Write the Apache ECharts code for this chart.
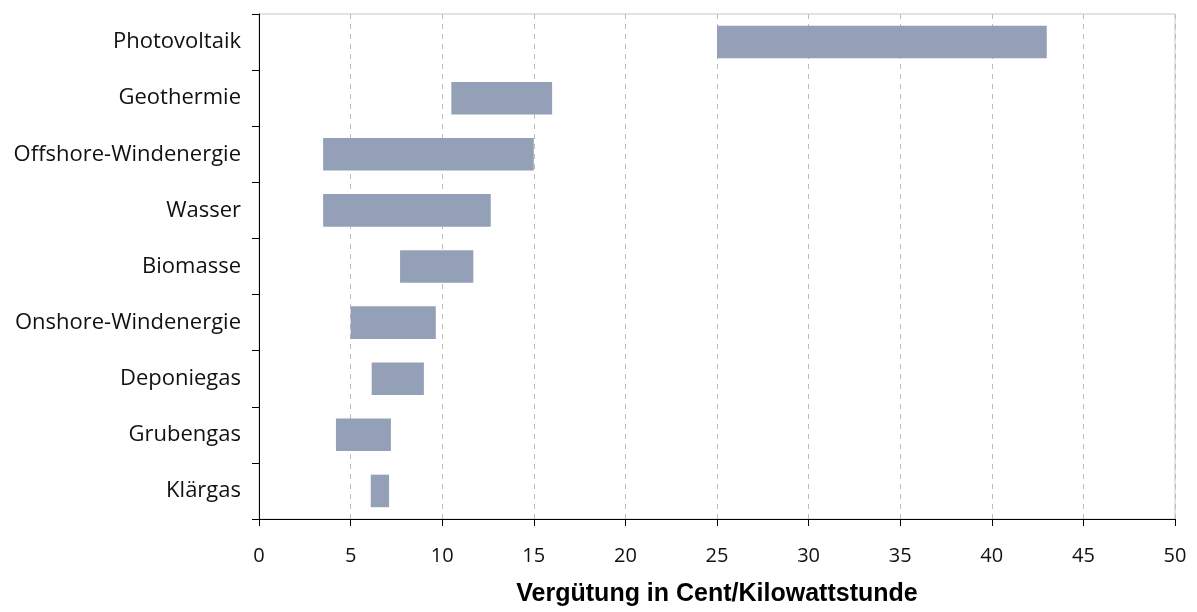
<!DOCTYPE html>
<html><head><meta charset="utf-8">
<script src="https://cdn.jsdelivr.net/npm/echarts@6/dist/echarts.min.js"></script>
<style>html,body{margin:0;padding:0;background:#fff}#c{width:1197px;height:612px}</style>
</head><body><div id="c"></div>
<script>
const categories = ["Photovoltaik","Geothermie","Offshore-Windenergie","Wasser","Biomasse","Onshore-Windenergie","Deponiegas","Grubengas","Klärgas"];
const minValues = [25, 10.5, 3.5, 3.5, 7.7, 5.0, 6.15, 4.2, 6.1];
const maxValues = [43, 16.0, 15.0, 12.65, 11.7, 9.65, 9.0, 7.2, 7.1];
const xTicks = [0,5,10,15,20,25,30,35,40,45,50];

const spans = maxValues.map((v,i)=>+(v-minValues[i]).toFixed(3));
const chart = echarts.init(document.getElementById('c'));
chart.setOption({
  animation:false,
  grid:{left:259,right:22,top:14,bottom:89,show:true,borderColor:'#c8c8c8',borderWidth:1},
  xAxis:{type:'value',min:xTicks[0],max:xTicks[xTicks.length-1],interval:5,
    name:'Vergütung in Cent/Kilowattstunde',nameLocation:'middle',nameGap:63,
    nameTextStyle:{fontFamily:'Liberation Sans',fontWeight:'bold',fontSize:25,color:'#000'},
    axisLine:{show:true,lineStyle:{color:'#000',width:1}},
    axisTick:{show:true,length:7,lineStyle:{color:'#000'}},
    axisLabel:{fontFamily:'Open Sans',fontSize:20,color:'#111',margin:27},
    splitLine:{show:true,lineStyle:{color:'#bdbdbd',type:[5,5],width:1}}},
  yAxis:{type:'category',data:categories,inverse:true,
    axisLine:{show:true,lineStyle:{color:'#000',width:1}},
    axisTick:{show:true,length:7,inside:false,lineStyle:{color:'#000'}},
    axisLabel:{fontFamily:'Open Sans',fontSize:22,color:'#111',margin:18},
    splitLine:{show:false}},
  series:[
    {type:'bar',stack:'s',data:minValues,itemStyle:{color:'transparent'},barWidth:'58%',silent:true},
    {type:'bar',stack:'s',data:spans,itemStyle:{color:'#94a0b8'},barWidth:'58%'}
  ]
});
</script></body></html>
